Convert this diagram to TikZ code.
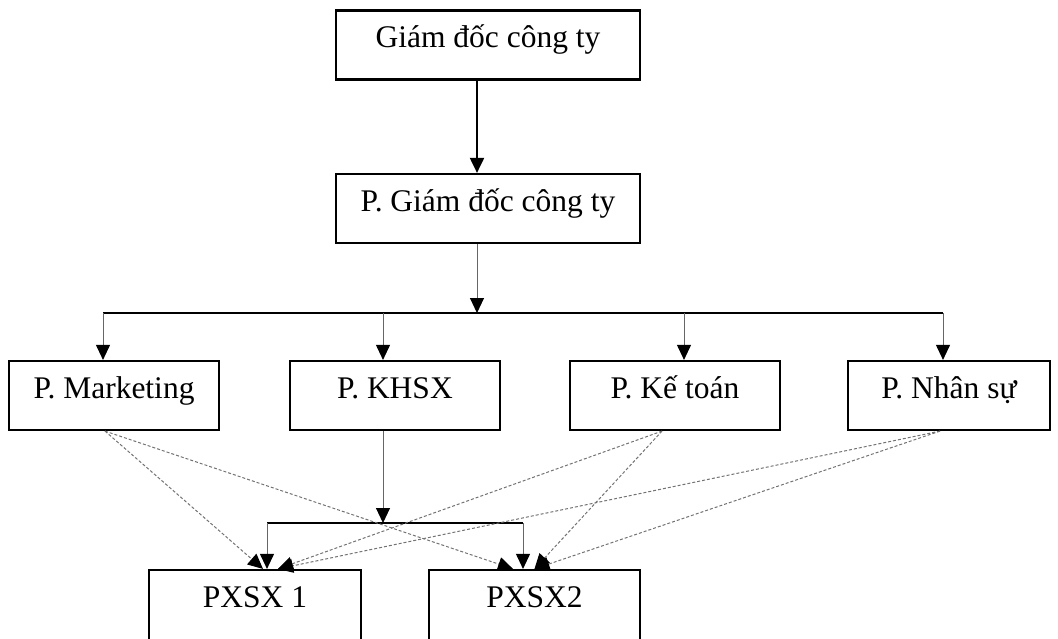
\documentclass[tikz,border=0pt]{standalone}
\usepackage{fontspec}
\setmainfont{Liberation Serif}
\usetikzlibrary{arrows.meta}

\begin{document}
\begin{tikzpicture}[
     x = 1pt, y = -1pt,
     font = \fontsize{31.5}{37}\selectfont,
     box/.style = {draw, line width = 2.2pt, minimum width = 210pt, minimum height = 69pt,
                   inner sep = 0pt, text height = 0.75em, text depth = 0.25em},
     tip/.style = {-{Triangle[width=14pt, length=15pt, color=black]}},
     main/.style = {tip, line width = 2pt},
     sub/.style = {tip, line width = 1pt, black!60},
     bar/.style = {line width = 2pt},
     link/.style = {tip, line width = 1pt, black!55, dash pattern = on 3pt off 2pt}
    ]
    \useasboundingbox (0,0) rectangle (1058,638);

    \node[box, minimum width = 304pt] (gd) at (488,45) {Giám đốc công ty};
    \node[box, minimum width = 304pt] (pgd) at (488,208.5) {P. Giám đốc công ty};

    \node[box] (mkt) at (114,395.5) {P. Marketing};
    \node[box] (khsx) at (395,395.5) {P. KHSX};
    \node[box] (kt) at (675,395.5) {P. Kế toán};
    \node[box, minimum width = 202pt] (ns) at (949,395.5) {P. Nhân sự};

    \node[box, minimum width = 212pt, minimum height = 70pt] (px1) at (255,605) {PXSX 1};
    \node[box, minimum width = 211pt, minimum height = 70pt] (px2) at (534.5,605) {PXSX2};

    \coordinate (split) at (477,313);
    \coordinate (d1) at (103,313);
    \coordinate (d2) at (383,313);
    \coordinate (d3) at (684,313);
    \coordinate (d4) at (943,313);
    \coordinate (join) at (383,523);
    \coordinate (j1) at (267,523);
    \coordinate (j2) at (523,523);

    \draw[main] (gd.south -| split) -- (pgd.north -| split);
    \draw[sub] (pgd.south -| split) -- (split);
    \draw[bar] (d1) -- (d4);
    \foreach \d/\n in {d1/mkt, d2/khsx, d3/kt, d4/ns}
      \draw[sub] (\d) -- (\n.north -| \d);

    \draw[sub] (khsx.south -| join) -- (join);
    \draw[bar] (j1) -- (j2);
    \draw[sub] (j1) -- (px1.north -| j1);
    \draw[sub] (j2) -- (px2.north -| j2);

    % dotted links to the workshops
    \draw[link] ([xshift=-9pt]mkt.south) -- ([xshift=8pt]px1.north);
    \draw[link] ([xshift=-9pt]mkt.south) -- ([xshift=-21.5pt]px2.north);
    \draw[link] ([xshift=-13pt]kt.south) -- ([xshift=23pt]px1.north);
    \draw[link] ([xshift=-13pt]kt.south) -- (px2.north);
    \draw[link] ([xshift=-9pt]ns.south) -- ([xshift=23pt]px1.north);
    \draw[link] ([xshift=-9pt]ns.south) -- (px2.north);
   \end{tikzpicture}
\end{document}
